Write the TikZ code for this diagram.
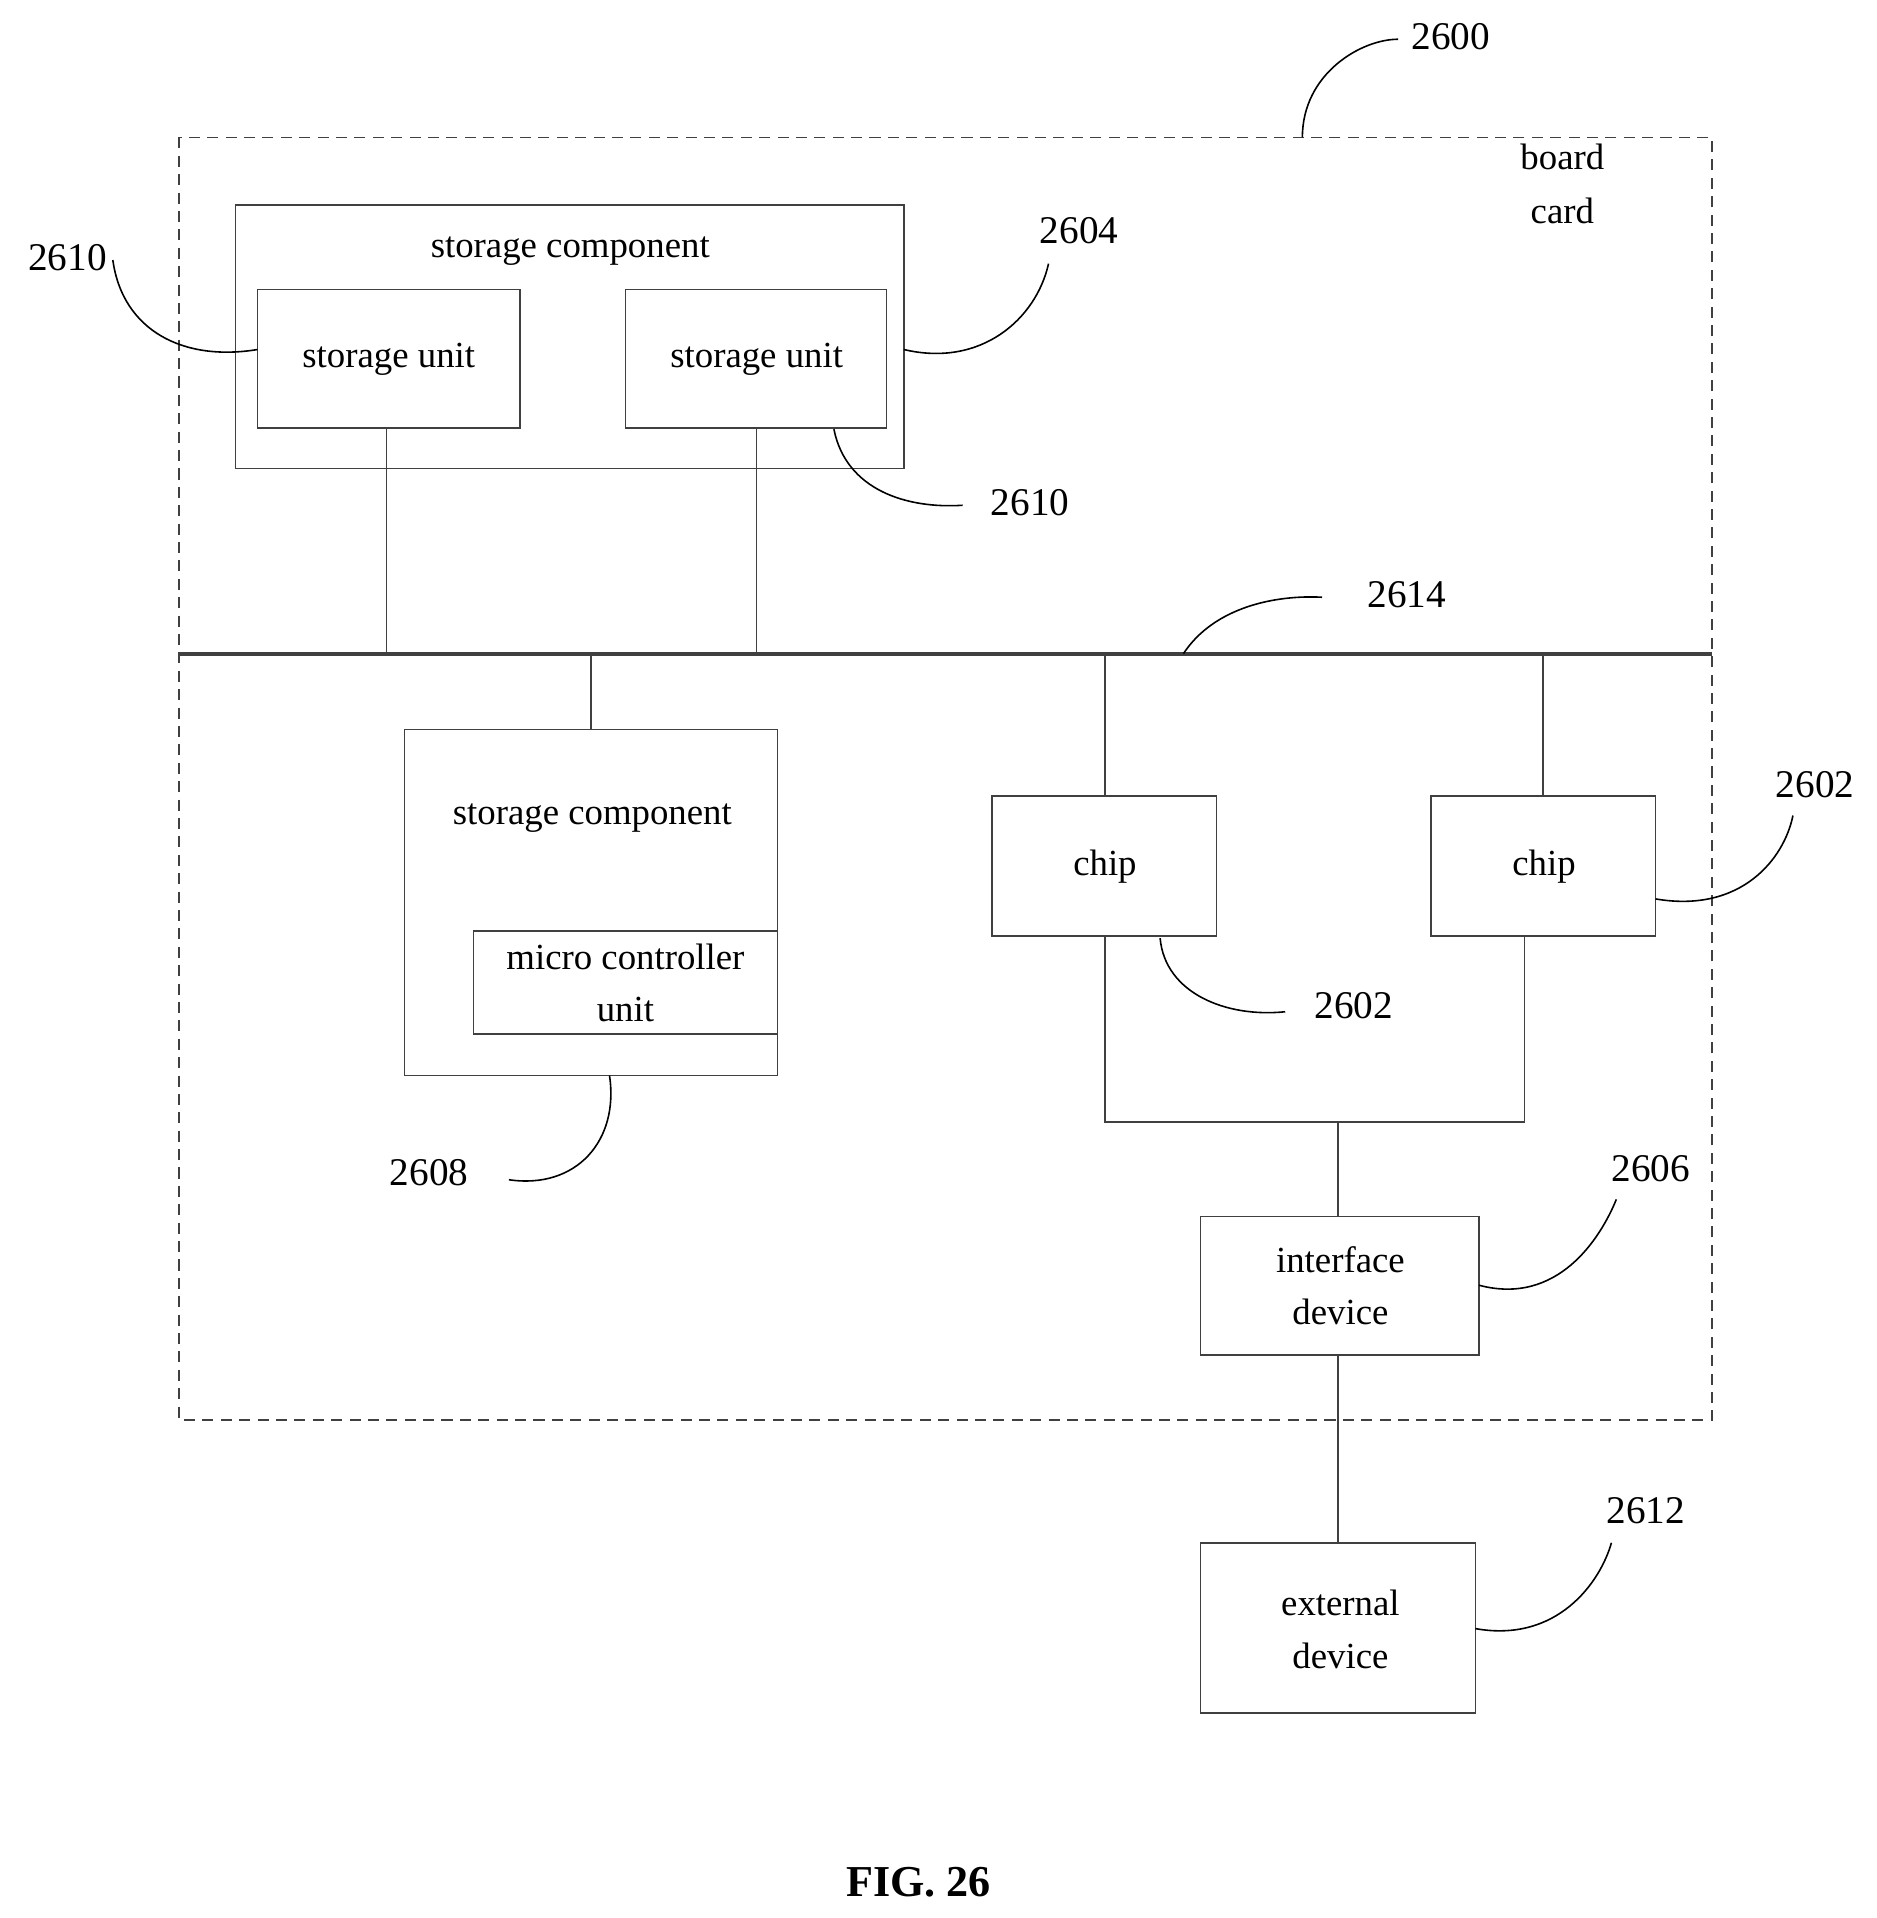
\documentclass[tikz,border=0pt]{standalone}
\usepackage{fontspec}
\setmainfont{Liberation Serif}
\begin{document}
\begin{tikzpicture}[x=1pt,y=-1pt,
  box/.style={draw=black!75,line width=1.3pt},
  ln/.style={draw=black!75,line width=1.3pt},
  lead/.style={draw=black,line width=1.3pt},
  txt/.style={font=\fontsize{30}{36}\selectfont,inner sep=0pt},
  lbl/.style={font=\fontsize{32}{38}\selectfont,inner sep=0pt}]
\useasboundingbox (0,0) rectangle (1530,1564);
\draw[ln,dash pattern=on 9pt off 6pt] (146,112) rectangle (1396,1158);
\node[lbl] (l2600) at (1183,30) {2600};
\draw[lead] (1062,112) .. controls (1062,60) and (1110,32) .. (1140,32);
\node[txt] (bc1) at (1274,128) {board};
\node[txt] (bc2) at (1274,172) {card};
% top storage component
\node[box,minimum width=545pt,minimum height=215pt] (sc1) at (464.5,274.5) {};
\node[txt] (sc1t) at (465,205) {storage component};
\node[box,minimum width=214pt,minimum height=113pt] (su1) at (317,292.5) {};
\node[txt] at (317,293) {storage unit};
\node[box,minimum width=213pt,minimum height=113pt] (su2) at (616.5,292.5) {};
\node[txt] at (617,293) {storage unit};
\node[lbl] (l2610a) at (55,210) {2610};
\draw[lead] (92,212) .. controls (100,270) and (150,295) .. (210,285);
\node[lbl] (l2604) at (880,188) {2604};
\draw[lead] (737,285) .. controls (800,300) and (845,260) .. (855,215);
\node[lbl] (l2610b) at (840,410) {2610};
\draw[lead] (680,350) .. controls (690,400) and (740,415) .. (785,412);
% bus
\coordinate (busL) at (146,533);
\coordinate (busR) at (1396,533);
\draw[black!75,line width=3.5pt] (busL) -- (busR);
\node[lbl] (l2614) at (1147,485) {2614};
\draw[lead] (965,533) .. controls (990,495) and (1040,485) .. (1078,487);
\coordinate (b1) at (315,533); \coordinate (b2) at (617,533);
\coordinate (b3) at (482,533); \coordinate (b4) at (901,533); \coordinate (b5) at (1258,533);
\draw[ln] (su1.south -| b1) -- (b1);
\draw[ln] (su2.south -| b2) -- (b2);
% second storage component
\node[box,minimum width=304pt,minimum height=282pt] (sc2) at (482,736) {};
\node[txt] at (483,667) {storage component};
\node[box,minimum width=248pt,minimum height=84pt] (mcu) at (510,801) {};
\node[txt] at (510,780) {micro controller};
\node[txt] at (510,823) {unit};
\draw[ln] (b3) -- (sc2.north -| b3);
\node[lbl] (l2608) at (350,956) {2608};
\draw[lead] (497,877) .. controls (505,930) and (470,970) .. (415,962);
% chips
\node[box,minimum width=183pt,minimum height=114pt] (chip1) at (900.5,706) {};
\node[txt] at (901,707) {chip};
\node[box,minimum width=183pt,minimum height=114pt] (chip2) at (1258.5,706) {};
\node[txt] at (1259,707) {chip};
\draw[ln] (b4) -- (chip1.north -| b4);
\draw[ln] (b5) -- (chip2.north -| b5);
\node[lbl] (l2602a) at (1480,640) {2602};
\draw[lead] (1350,733) .. controls (1420,745) and (1455,700) .. (1462,665);
\node[lbl] (l2602b) at (1104,820) {2602};
\draw[lead] (946,765) .. controls (950,810) and (1000,830) .. (1048,825);
\coordinate (j1) at (901,915); \coordinate (j2) at (1243,915); \coordinate (j3) at (1091,915);
\draw[ln] (chip1.south -| j1) -- (j1) -- (j2) -- (chip2.south -| j2);
% interface
\node[box,minimum width=227pt,minimum height=113pt] (ifd) at (1092.5,1048.5) {};
\node[txt] at (1093,1027) {interface};
\node[txt] at (1093,1070) {device};
\draw[ln] (j3) -- (ifd.north -| j3);
\node[lbl] (l2606) at (1346,953) {2606};
\draw[lead] (1206,1048) .. controls (1270,1065) and (1305,1010) .. (1318,978);
% external
\node[box,minimum width=224pt,minimum height=139pt] (ext) at (1091,1327.5) {};
\node[txt] at (1093,1307) {external};
\node[txt] at (1093,1350) {device};
\draw[ln] (ifd.south -| j3) -- (ext.north -| j3);
\node[lbl] (l2612) at (1342,1232) {2612};
\draw[lead] (1203,1328) .. controls (1270,1340) and (1305,1290) .. (1314,1258);
\node[font=\bfseries\fontsize{36}{42}\selectfont,inner sep=0pt] (fig) at (749,1535) {FIG. 26};
\end{tikzpicture}
\end{document}
